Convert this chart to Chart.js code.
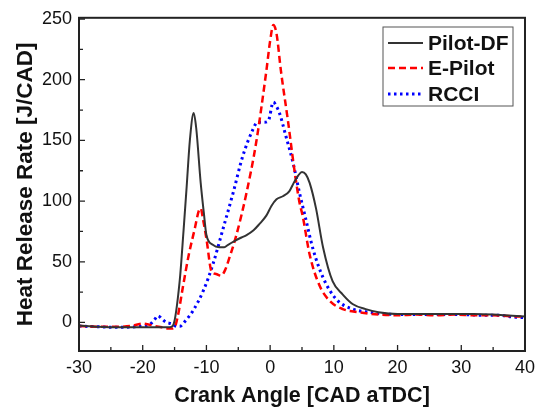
<!DOCTYPE html>
<html>
<head>
<meta charset="utf-8">
<script src="https://cdn.jsdelivr.net/npm/chart.js@4.4.1/dist/chart.umd.min.js"></script>
<style>
    html, body { margin: 0; padding: 0; background: #fff; }
    #wrap { width: 541px; height: 410px; }
</style>
</head>
<body>
<div id="wrap"><canvas id="hrr"></canvas></div>
<script>
// Heat release rate vs crank angle, three combustion modes
const pilotDfAngle = [-30, -27, -24, -20, -17, -15.8, -15.2, -14.2, -13.6, -13.1, -12.6, -12.0, -11.6, -10.9, -10.4, -10.0, -9.0, -8.0, -7.2, -6.6, -5.6, -4.5, -3.7, -2.6, -1.7, -0.6, 0.2, 1.0, 2.0, 3.0, 3.8, 4.4, 5.0, 5.6, 6.2, 7.2, 8.3, 9.8, 11.4, 13.0, 15.0, 17.0, 20, 23, 26, 29, 32, 35, 38, 40];
const pilotDfHrr = [-2.5, -3.5, -4, -4, -4, -4, -2, 34, 75, 112, 150, 172.5, 160, 115, 90, 72, 64, 62, 62, 64, 67, 70, 72, 76, 81, 88, 96, 101.5, 104, 108, 116, 121, 124, 122, 115, 94, 62, 34, 23, 15, 11, 8.5, 7, 7, 7, 7, 7, 6.5, 5.5, 5];

const ePilotAngle = [-30, -27, -24, -22, -20, -18, -17, -16, -15.5, -15, -14.5, -13.7, -12.8, -11.8, -11.2, -10.9, -10.5, -10.0, -9.2, -8.5, -7.7, -7.0, -6.6, -5.3, -3.7, -2.2, -0.6, 0.0, 0.5, 1.0, 1.7, 2.8, 3.8, 4.6, 5.1, 6.2, 7.7, 9.3, 11.4, 14.0, 17, 20, 23, 26, 29, 32, 35, 38, 40];
const ePilotHrr = [-3, -3.5, -3.5, -3, -1, -3, -4, -5, -5, -4, 5, 29, 55, 78, 92, 94, 84, 69, 42, 40, 38.5, 44, 50, 72, 107, 148, 207, 232, 245, 238, 207, 166, 126, 99, 88, 56, 31, 18, 11, 8.4, 6.5, 6, 6.5, 6, 6.5, 6, 6, 5, 5];

const rcciAngle = [-30, -27, -24, -21, -19, -18.2, -17.6, -17, -16.3, -15.5, -14.8, -14.2, -13.2, -12.1, -10.5, -9.0, -7.4, -5.8, -4.3, -2.7, -2.0, -1.0, -0.3, 0.5, 1.0, 1.5, 2.5, 3.6, 4.6, 5.6, 6.7, 8.3, 10.4, 13, 15.6, 18, 21, 24, 27, 30, 33, 36, 38, 40];
const rcciHrr = [-3, -3.5, -4, -3.5, -2, 2, 5.5, 3, 0, -1, -3, -3.2, 2, 9.7, 26, 47.6, 77, 107, 137, 159, 165, 165, 166, 181.5, 178, 172, 153, 131.5, 107, 85, 61, 37, 19, 11, 8.4, 7, 6.5, 6.5, 6.5, 6.5, 6, 6, 4.5, 4];

const xTicks = [-30, -20, -10, 0, 10, 20, 30, 40];
const yTicks = [0, 50, 100, 150, 200, 250];

const toPoints = (xs, ys) => xs.map((x, i) => ({ x: x, y: ys[i] }));

const series = [
    { label: 'Pilot-DF', data: toPoints(pilotDfAngle, pilotDfHrr), color: '#333333', width: 2, dash: [] },
    { label: 'E-Pilot', data: toPoints(ePilotAngle, ePilotHrr), color: '#ff0000', width: 2.5, dash: [7, 4] },
    { label: 'RCCI', data: toPoints(rcciAngle, rcciHrr), color: '#0000ff', width: 3, dash: [2.5, 3.5] }
];

// Inward major/minor ticks, closing frame and boxed legend
const framePlugin = {
    id: 'frame',
    afterDraw(chart) {
        const ctx = chart.ctx;
        const area = chart.chartArea;
        const xs = chart.scales.x;
        const ys = chart.scales.y;
        ctx.save();
        ctx.strokeStyle = '#222';
        ctx.lineWidth = 2;
        ctx.strokeRect(area.left, area.top, area.right - area.left, area.bottom - area.top);

        ctx.lineWidth = 1.3;
        ctx.beginPath();
        for (let v = -30; v <= 40; v += 5) {
            const px = xs.getPixelForValue(v);
            const len = v % 10 === 0 ? 6 : 4;
            ctx.moveTo(px, area.bottom);
            ctx.lineTo(px, area.bottom - len);
        }
        for (let v = 0; v <= 250; v += 25) {
            const py = ys.getPixelForValue(v);
            const len = v % 50 === 0 ? 6 : 4;
            ctx.moveTo(area.left, py);
            ctx.lineTo(area.left + len, py);
        }
        ctx.stroke();

        // legend box
        const bx = 383, by = 27, bw = 130, bh = 79;
        ctx.fillStyle = '#fff';
        ctx.fillRect(bx, by, bw, bh);
        ctx.strokeStyle = '#555';
        ctx.lineWidth = 1;
        ctx.strokeRect(bx, by, bw, bh);
        const rows = [43, 68, 94];
        ctx.font = 'bold 21px "Liberation Sans", Arial, sans-serif';
        ctx.textBaseline = 'middle';
        series.forEach((s, i) => {
            ctx.strokeStyle = s.color;
            ctx.lineWidth = s.width;
            ctx.setLineDash(s.dash);
            ctx.beginPath();
            ctx.moveTo(388, rows[i]);
            ctx.lineTo(423, rows[i]);
            ctx.stroke();
            ctx.setLineDash([]);
            ctx.fillStyle = '#111';
            ctx.fillText(s.label, 428, rows[i] + 1);
        });
        ctx.restore();
    }
};

const ctx = document.getElementById('hrr').getContext('2d');
new Chart(ctx, {
    type: 'line',
    data: {
        datasets: series.map(s => ({
            label: s.label,
            data: s.data,
            borderColor: s.color,
            borderWidth: s.width,
            borderDash: s.dash,
            fill: false,
            pointRadius: 0,
            cubicInterpolationMode: 'monotone'
        }))
    },
    options: {
        responsive: true,
        maintainAspectRatio: false,
        animation: false,
        layout: {
            padding: { top: 13, right: 15, left: 0, bottom: 0 }
        },
        plugins: {
            legend: { display: false },
            tooltip: { enabled: false }
        },
        scales: {
            x: {
                type: 'linear',
                min: -30,
                max: 40,
                afterFit: scale => { scale.height = 59; },
                afterBuildTicks: scale => { scale.ticks = xTicks.map(v => ({ value: v })); },
                grid: { display: false, drawTicks: false },
                border: { display: false },
                ticks: {
                    color: '#111',
                    padding: 6,
                    maxRotation: 0,
                    font: { family: '"Liberation Sans", Arial, sans-serif', size: 18 }
                },
                title: {
                    display: true,
                    text: 'Crank Angle [CAD aTDC]',
                    color: '#111',
                    padding: { top: 0, bottom: 1 },
                    font: { family: '"Liberation Sans", Arial, sans-serif', size: 21.5, weight: 'bold' }
                }
            },
            y: {
                type: 'linear',
                min: -23.5,
                max: 251,
                afterFit: scale => { scale.width = 79; },
                afterBuildTicks: scale => { scale.ticks = yTicks.map(v => ({ value: v })); },
                grid: { display: false, drawTicks: false },
                border: { display: false },
                ticks: {
                    color: '#111',
                    padding: 7,
                    font: { family: '"Liberation Sans", Arial, sans-serif', size: 18 }
                },
                title: {
                    display: true,
                    text: 'Heat Release Rate [J/CAD]',
                    color: '#111',
                    padding: { top: 12, bottom: 0 },
                    font: { family: '"Liberation Sans", Arial, sans-serif', size: 22.5, weight: 'bold' }
                }
            }
        }
    },
    plugins: [framePlugin]
});
</script>
</body>
</html>
